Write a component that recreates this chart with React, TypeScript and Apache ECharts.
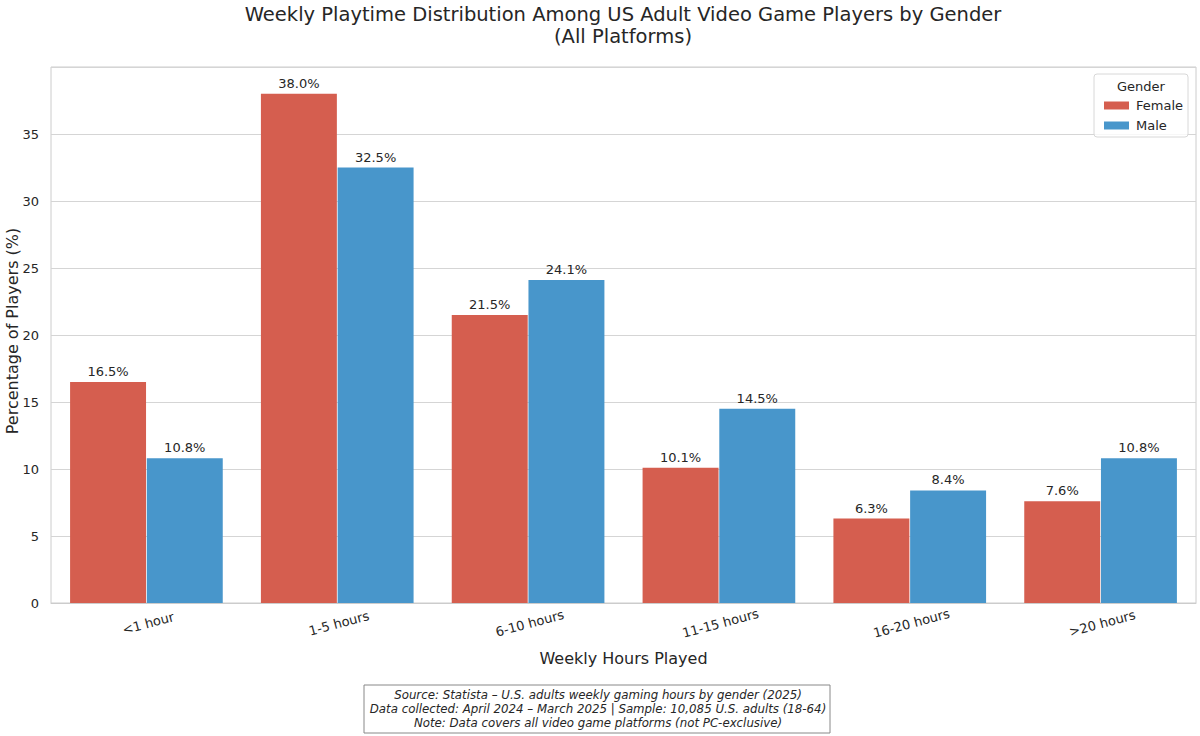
import React, { useEffect, useRef } from "react";
import * as echarts from "echarts";

const categories = ["<1 hour", "1-5 hours", "6-10 hours", "11-15 hours", "16-20 hours", ">20 hours"];
const femaleValues = [16.5, 38.0, 21.5, 10.1, 6.3, 7.6];
const maleValues = [10.8, 32.5, 24.1, 14.5, 8.4, 10.8];
const yTicks = [0, 5, 10, 15, 20, 25, 30, 35, 40];
const yAxisTitle = "Percentage of Players (%)";
const footnoteLines = [
  "Source: Statista – U.S. adults weekly gaming hours by gender (2025)",
  "Data collected: April 2024 – March 2025 | Sample: 10,085 U.S. adults (18-64)",
  "Note: Data covers all video game platforms (not PC-exclusive)",
];

const FONT = "DejaVu Sans";
const TEXT = "#262626";
const FEMALE = "#D55E4F";
const MALE = "#4896CB";

export default function App() {
  const ref = useRef<HTMLDivElement>(null);
  useEffect(() => {
    if (!ref.current) return;
    const chart = echarts.init(ref.current, null, { renderer: "svg" });
    const labelCfg = {
      show: true,
      position: "top",
      distance: 4,
      color: TEXT,
      fontFamily: FONT,
      fontSize: 13,
      formatter: (p: any) => Number(p.value).toFixed(1) + "%",
    };
    chart.setOption({
      animation: false,
      backgroundColor: "#ffffff",
      textStyle: { fontFamily: FONT },
      title: {
        text: "Weekly Playtime Distribution Among US Adult Video Game Players by Gender\n(All Platforms)",
        left: 618,
        top: -2,
        textAlign: "center",
        textStyle: { fontFamily: FONT, fontSize: 19.5, fontWeight: "normal", color: TEXT, lineHeight: 22 },
      },
      grid: {
        left: 51,
        right: 4,
        top: 67,
        bottom: 133,
        show: true,
        borderColor: "#cccccc",
        borderWidth: 1,
        containLabel: false,
        outerBoundsMode: "none",
      },
      legend: {
        orient: "vertical",
        left: 1099,
        top: 94,
        itemWidth: 25,
        itemHeight: 8,
        itemGap: 7,
        icon: "rect",
        textStyle: { fontFamily: FONT, fontSize: 13, color: TEXT, padding: [0, 0, 0, 2] },
        data: ["Female", "Male"],
      },
      xAxis: {
        type: "category",
        data: categories,
        axisLine: { show: true, lineStyle: { color: "#cccccc" } },
        axisTick: { show: false },
        axisLabel: {
          rotate: 15,
          align: "center",
          verticalAlign: "top",
          margin: 14,
          fontFamily: FONT,
          fontSize: 13,
          color: TEXT,
        },
        name: "Weekly Hours Played",
        nameLocation: "middle",
        nameGap: 47,
        nameTextStyle: { fontFamily: FONT, fontSize: 16, color: TEXT },
      },
      yAxis: {
        type: "value",
        min: yTicks[0],
        max: yTicks[yTicks.length - 1],
        interval: 5,
        axisLine: { show: false },
        axisTick: { show: false },
        axisLabel: { showMaxLabel: false, fontFamily: FONT, fontSize: 13, color: TEXT, margin: 12 },
        splitLine: { show: true, lineStyle: { color: "#d5d5d5", width: 1 } },
      },
      series: [
        {
          name: "Female",
          type: "bar",
          data: femaleValues,
          barGap: "1%",
          barCategoryGap: "20%",
          itemStyle: { color: FEMALE },
          label: labelCfg,
        },
        {
          name: "Male",
          type: "bar",
          data: maleValues,
          barGap: "1%",
          barCategoryGap: "20%",
          itemStyle: { color: MALE },
          label: labelCfg,
        },
      ],
      graphic: [
        {
          type: "text",
          x: 12,
          y: 331,
          rotation: Math.PI / 2,
          style: { text: yAxisTitle, fontFamily: FONT, fontSize: 16, fill: TEXT, align: "center", verticalAlign: "middle" },
        },
        {
          type: "rect",
          shape: { x: 1094, y: 74, width: 94, height: 63, r: 3 },
          style: { fill: "rgba(255,255,255,0.8)", stroke: "#d8d8d8", lineWidth: 1 },
          z: 1,
        },
        {
          type: "text",
          x: 1141,
          y: 86,
          style: { text: "Gender", fontFamily: FONT, fontSize: 13, fill: TEXT, align: "center", verticalAlign: "middle" },
          z: 2,
        },
        {
          type: "rect",
          shape: { x: 364, y: 685, width: 466, height: 48 },
          style: { fill: "#ffffff", stroke: "#888888", lineWidth: 1 },
        },
        {
          type: "text",
          x: 598,
          y: 709,
          style: {
            text: footnoteLines.join("\n"),
            fontFamily: FONT,
            fontSize: 11.8,
            fontStyle: "italic",
            lineHeight: 14,
            fill: TEXT,
            align: "center",
            verticalAlign: "middle",
          },
        },
      ],
    });
    return () => chart.dispose();
  }, []);
  return <div ref={ref} style={{ width: 1200, height: 736, position: "absolute", left: 0, top: 0 }} />;
}
